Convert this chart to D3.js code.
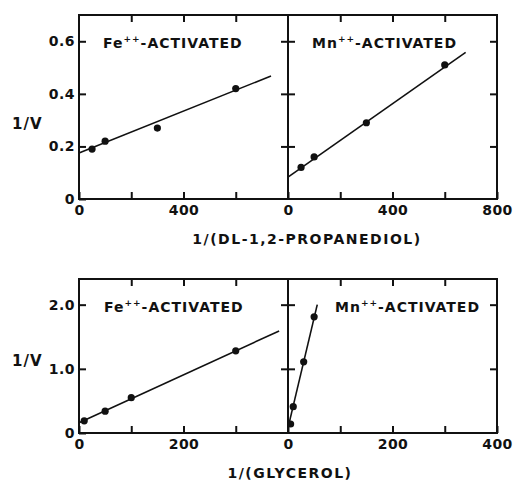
<!DOCTYPE html>
<html>
<head>
<meta charset="utf-8">
<script src="https://cdn.jsdelivr.net/npm/d3@7"></script>
<style>
  body { margin: 0; background: #fff; }
  text { font-family: "DejaVu Sans", sans-serif; font-weight: bold; fill: #111; }
  .axis path { display: none; }
  .axis line { stroke: #111; stroke-width: 2; }
  .axis text { font-size: 14px; letter-spacing: 0.5px; }
</style>
</head>
<body>
<script>
// reciprocal plots, 1/V vs 1/[substrate]
const propFeX = [50, 100, 300, 600];
const propFeY = [0.19, 0.22, 0.27, 0.42];
const propMnX = [50, 100, 300, 600];
const propMnY = [0.12, 0.16, 0.29, 0.51];
const glyFeX = [10, 50, 100, 300];
const glyFeY = [0.19, 0.34, 0.55, 1.28];
const glyMnX = [5, 10, 30, 50];
const glyMnY = [0.14, 0.41, 1.11, 1.81];

// fitted lines (start / end points)
const propFeFit = [[0, 0.175], [735, 0.468]];
const propMnFit = [[0, 0.083], [680, 0.558]];
const glyFeFit = [[0, 0.16], [383, 1.59]];
const glyMnFit = [[0, 0.08], [56, 2.0]];

const propTicksX = [0, 200, 400, 600, 800];
const propTicksY = [0, 0.2, 0.4, 0.6];
const glyTicksX = [0, 100, 200, 300, 400];
const glyTicksY = [0, 1, 2];

const width = 515;
const height = 481;
const colL = [79, 288];
const colR = [288, 497];
const rowTop = [199, 15];
const rowBot = [433, 279];
const tick = 7;

const svg = d3.select('body').append('svg')
  .attr('width', width)
  .attr('height', height);

function panel(opts) {
  const x = d3.scaleLinear().domain(opts.xDomain).range(opts.xRange);
  const y = d3.scaleLinear().domain(opts.yDomain).range(opts.yRange);
  const g = svg.append('g');

  const innerX = opts.xTicks.filter(v => v > opts.xDomain[0] && v < opts.xDomain[1]);
  const innerY = opts.yTicks.filter(v => v > 0);

  g.append('g').attr('class', 'axis')
    .attr('transform', `translate(0, ${opts.yRange[0]})`)
    .call(d3.axisBottom(x).tickValues(opts.xTicks.filter(v => v < opts.xDomain[1] || opts.lastX))
      .tickSizeInner(-tick).tickSizeOuter(0).tickPadding(6)
      .tickFormat(v => opts.xLabels.includes(v) ? d3.format('d')(v) : ''));

  g.append('g').attr('class', 'axis')
    .attr('transform', `translate(0, ${opts.yRange[1]})`)
    .call(d3.axisTop(x).tickValues(innerX).tickSizeInner(-tick).tickSizeOuter(0).tickFormat(''));

  g.append('g').attr('class', 'axis')
    .attr('transform', `translate(${opts.xRange[0]}, 0)`)
    .call(d3.axisLeft(y).tickValues(opts.showY ? opts.yTicks : innerY)
      .tickSizeInner(-tick).tickSizeOuter(0).tickPadding(4)
      .tickFormat(v => opts.showY ? (v === 0 ? '0' : d3.format('.1f')(v)) : ''));

  g.append('g').attr('class', 'axis')
    .attr('transform', `translate(${opts.xRange[1]}, 0)`)
    .call(d3.axisRight(y).tickValues(innerY).tickSizeInner(-tick).tickSizeOuter(0).tickFormat(''));

  g.append('rect')
    .attr('x', opts.xRange[0]).attr('y', opts.yRange[1])
    .attr('width', opts.xRange[1] - opts.xRange[0])
    .attr('height', opts.yRange[0] - opts.yRange[1])
    .attr('fill', 'none').attr('stroke', '#111').attr('stroke-width', 2);

  g.append('path')
    .datum(opts.fit)
    .attr('d', d3.line().x(d => x(d[0])).y(d => y(d[1])))
    .attr('fill', 'none').attr('stroke', '#111').attr('stroke-width', 1.6);

  g.selectAll('circle')
    .data(opts.xs.map((v, i) => [v, opts.ys[i]]))
    .join('circle')
    .attr('cx', d => x(d[0])).attr('cy', d => y(d[1]))
    .attr('r', 3.6).attr('fill', '#111');

  const label = g.append('text')
    .attr('x', opts.xRange[0] + opts.labelDx)
    .attr('y', opts.yRange[1] + 33)
    .attr('font-size', 14).attr('letter-spacing', 1);
  label.append('tspan').text(opts.ion);
  label.append('tspan').attr('dy', -6).attr('font-size', 9).text('++');
  label.append('tspan').attr('dy', 6).text('-ACTIVATED');
}

panel({ xDomain: [0, 800], yDomain: [0, 0.7], xRange: colL, yRange: rowTop,
  xTicks: propTicksX, yTicks: propTicksY, xLabels: [0, 400], showY: true,
  xs: propFeX, ys: propFeY, fit: propFeFit, ion: 'Fe', labelDx: 24 });
panel({ xDomain: [0, 800], yDomain: [0, 0.7], xRange: colR, yRange: rowTop,
  xTicks: propTicksX, yTicks: propTicksY, xLabels: [0, 400, 800], showY: false, lastX: true,
  xs: propMnX, ys: propMnY, fit: propMnFit, ion: 'Mn', labelDx: 24 });
panel({ xDomain: [0, 400], yDomain: [0, 2.4], xRange: colL, yRange: rowBot,
  xTicks: glyTicksX, yTicks: glyTicksY, xLabels: [0, 200], showY: true,
  xs: glyFeX, ys: glyFeY, fit: glyFeFit, ion: 'Fe', labelDx: 25 });
panel({ xDomain: [0, 400], yDomain: [0, 2.4], xRange: colR, yRange: rowBot,
  xTicks: glyTicksX, yTicks: glyTicksY, xLabels: [0, 200, 400], showY: false, lastX: true,
  xs: glyMnX, ys: glyMnY, fit: glyMnFit, ion: 'Mn', labelDx: 47 });

// axis titles
svg.append('text').attr('x', 12).attr('y', 129).attr('font-size', 15).attr('letter-spacing', 1).text('1/V');
svg.append('text').attr('x', 12).attr('y', 366).attr('font-size', 15).attr('letter-spacing', 1).text('1/V');
svg.append('text').attr('x', 307).attr('y', 244).attr('text-anchor', 'middle')
  .attr('font-size', 14).attr('letter-spacing', 1.5).text('1/(DL-1,2-PROPANEDIOL)');
svg.append('text').attr('x', 290).attr('y', 478).attr('text-anchor', 'middle')
  .attr('font-size', 14).attr('letter-spacing', 1.5).text('1/(GLYCEROL)');
</script>
</body>
</html>
